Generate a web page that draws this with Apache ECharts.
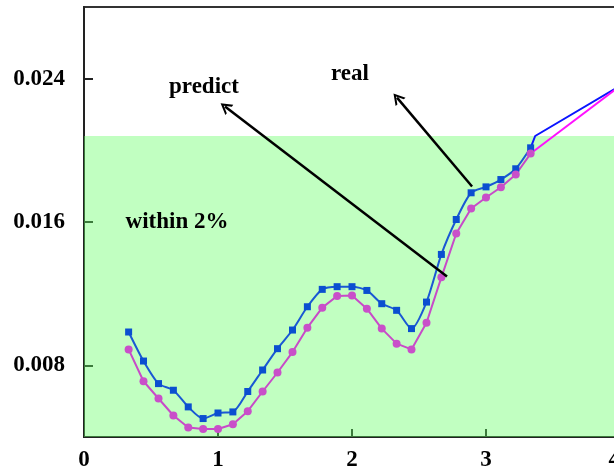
<!DOCTYPE html>
<html>
<head>
<meta charset="utf-8">
<script src="https://cdn.jsdelivr.net/npm/echarts@6/dist/echarts.min.js"></script>
<style>
  html, body { margin: 0; padding: 0; background: #fff; }
  #chart { width: 614px; height: 470px; }
</style>
</head>
<body>
<div id="chart"></div>
<script>
  // x positions of the sampled points
  const xValues = [0.333, 0.444, 0.556, 0.667, 0.778, 0.889, 1.0, 1.111, 1.222, 1.333,
    1.444, 1.556, 1.667, 1.778, 1.889, 2.0, 2.111, 2.222, 2.333, 2.444,
    2.556, 2.667, 2.778, 2.889, 3.0, 3.111, 3.222, 3.333];
  const realValues = [0.00986, 0.00824, 0.00698, 0.00661, 0.00568, 0.00503, 0.00534, 0.00540, 0.00654, 0.00774,
    0.00893, 0.00997, 0.01127, 0.01224, 0.01239, 0.01239, 0.01218, 0.01144, 0.01107, 0.01005,
    0.01153, 0.01419, 0.01614, 0.01763, 0.01796, 0.01837, 0.01897, 0.02014];
  const predictValues = [0.00889, 0.00711, 0.00615, 0.00520, 0.00453, 0.00445, 0.00445, 0.00471, 0.00544, 0.00654,
    0.00760, 0.00874, 0.01010, 0.01122, 0.01187, 0.01190, 0.01116, 0.01005, 0.00921, 0.00889,
    0.01038, 0.01291, 0.01536, 0.01675, 0.01737, 0.01794, 0.01865, 0.01982];
  // unmarked tails
  const realTailX = [3.333, 3.367, 4.0];
  const realTailY = [0.02014, 0.0208, 0.0236];
  const predictTailX = [3.333, 4.0];
  const predictTailY = [0.01982, 0.0236];
  const yTicks = [0.008, 0.016, 0.024];
  const xTicks = [0, 1, 2, 3, 4];
  const bandTop = 0.0208;

  const pairs = (xs, ys) => xs.map((x, i) => [x, ys[i]]);
  const labelFont = {
    fontFamily: '"Liberation Serif", serif',
    fontWeight: 'bold',
    fontSize: 23,
    color: '#000'
  };
  const textFont = 'bold 23px "Liberation Serif", serif';
  const arrowHead = 'path://M0,10 L5,0 L10,10 L8.2,10 L5,3.6 L1.8,10 Z';

  const chart = echarts.init(document.getElementById('chart'));
  const option = {
    animation: false,
    backgroundColor: '#fff',
    grid: {
      left: 84,
      top: 7,
      width: 536,
      bottom: 33,
      outerBoundsMode: 'none',
      containLabel: false,
      show: true,
      borderColor: '#333',
      borderWidth: 2,
      backgroundColor: 'transparent'
    },
    xAxis: {
      type: 'value',
      min: 0,
      max: 4,
      interval: 1,
      splitLine: { show: false },
      axisLine: { show: true, lineStyle: { color: '#222', width: 2 } },
      axisTick: { show: true, inside: true, length: 8, customValues: xTicks, lineStyle: { color: '#222', width: 2 } },
      axisLabel: Object.assign({ margin: 12, customValues: xTicks, alignMaxLabel: 'right' }, labelFont)
    },
    yAxis: {
      type: 'value',
      min: 0.004,
      max: 0.028,
      splitLine: { show: false },
      axisLine: { show: true, lineStyle: { color: '#222', width: 2 } },
      axisTick: { show: true, inside: true, length: 9, customValues: yTicks, lineStyle: { color: '#222', width: 2 } },
      axisLabel: Object.assign({
        margin: 19,
        customValues: yTicks,
        formatter: v => v.toFixed(3)
      }, labelFont)
    },
    series: [
      {
        type: 'line',
        z: 1,
        data: [],
        silent: true,
        markArea: {
          silent: true,
          itemStyle: { color: 'rgba(100,255,100,0.4)' },
          data: [[{ coord: [0, 0.004] }, { coord: [4, bandTop] }]]
        }
      },
      {
        name: 'real',
        type: 'line',
        z: 3,
        smooth: 0.25,
        data: pairs(xValues, realValues),
        symbol: 'rect',
        symbolSize: 7,
        lineStyle: { color: '#1a58d4', width: 2 },
        itemStyle: { color: '#0b4fd0' }
      },
      {
        name: 'predict',
        type: 'line',
        z: 3,
        data: pairs(xValues, predictValues),
        symbol: 'circle',
        symbolSize: 8,
        lineStyle: { color: '#c84ac8', width: 2 },
        itemStyle: { color: '#c94fc9' }
      },
      {
        type: 'line',
        z: 3,
        data: pairs(realTailX, realTailY),
        symbol: 'none',
        lineStyle: { color: '#0a14ff', width: 2 }
      },
      {
        type: 'line',
        z: 3,
        data: pairs(predictTailX, predictTailY),
        symbol: 'none',
        lineStyle: { color: '#ff10ff', width: 2 }
      },
      {
        type: 'line',
        z: 4,
        data: [],
        markLine: {
          silent: true,
          symbol: ['none', arrowHead],
          symbolSize: [13, 11],
          label: { show: false },
          lineStyle: { color: '#000', width: 2.5, type: 'solid' },
          data: [
            [{ coord: [2.709, 0.01296] }, { coord: [1.052, 0.02244] }],
            [{ coord: [2.896, 0.01798] }, { coord: [2.336, 0.02294] }]
          ]
        }
      }
    ],
    graphic: [
      { type: 'text', x: 204, y: 87, z: 10, style: { text: 'predict', align: 'center', verticalAlign: 'middle', font: textFont, fill: '#000' } },
      { type: 'text', x: 350, y: 74, z: 10, style: { text: 'real', align: 'center', verticalAlign: 'middle', font: textFont, fill: '#000' } },
      { type: 'text', x: 177, y: 222, z: 10, style: { text: 'within 2%', align: 'center', verticalAlign: 'middle', font: textFont, fill: '#000' } }
    ]
  };
  chart.setOption(option);
</script>
</body>
</html>
